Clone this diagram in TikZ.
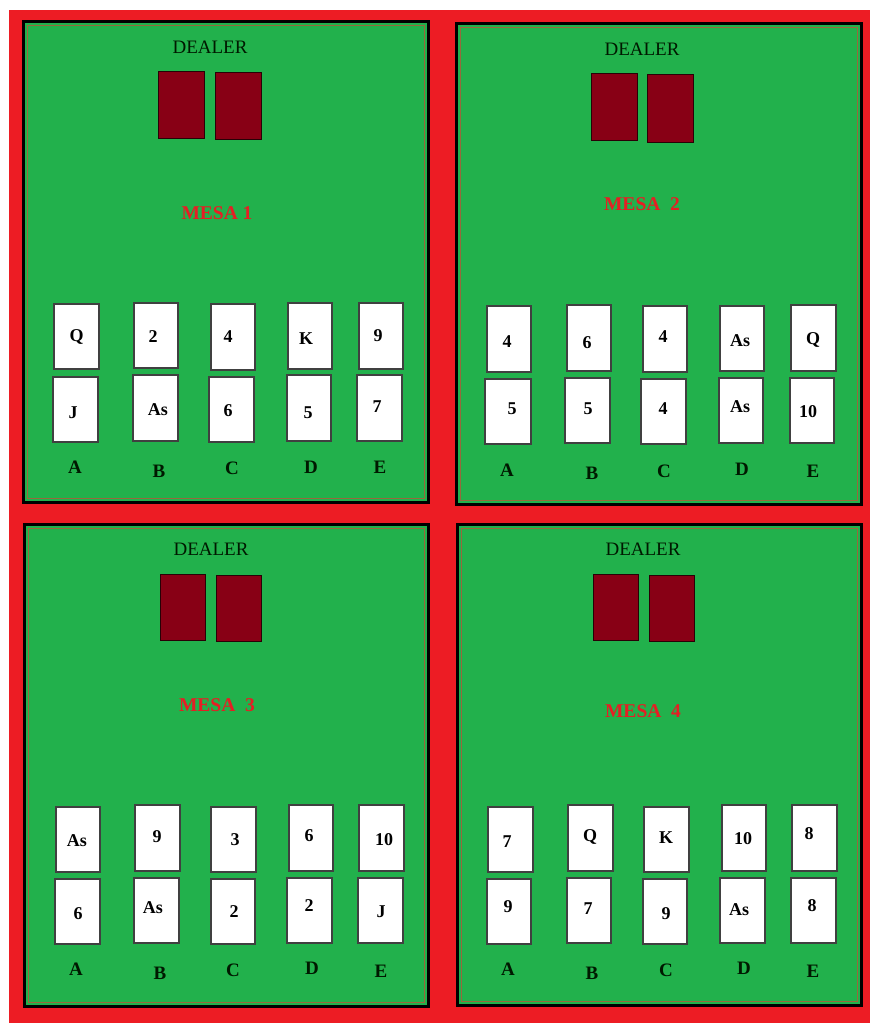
\documentclass[tikz,border=0pt]{standalone}
\usepackage{fontspec}
\setmainfont{Liberation Serif}
\definecolor{bgred}{RGB}{237,28,36}
\definecolor{tgreen}{RGB}{34,177,76}
\definecolor{dred}{RGB}{136,0,21}
\definecolor{brn}{RGB}{150,105,60}
\definecolor{mred}{RGB}{230,30,36}
\newcommand\crd[8]{%
  \pgfmathsetmacro\cw{#4-#2}\pgfmathsetmacro\ch{#5-#3}%
  \node[cardw,minimum width=\cw pt,minimum height=\ch pt] (#1) at ({(#2+#4)/2},{(#3+#5)/2}) {};
  \node[cardt] (#1t) at (#7,#8) {#6};}
\newcommand\dcrd[5]{%
  \pgfmathsetmacro\cw{#4-#2}\pgfmathsetmacro\ch{#5-#3}%
  \node[dcard,minimum width=\cw pt,minimum height=\ch pt] (#1) at ({(#2+#4)/2},{(#3+#5)/2}) {};}
\newcommand\tabl[5]{%
  \pgfmathsetmacro\cw{#4-#2-3}\pgfmathsetmacro\ch{#5-#3-3}%
  \node[tablebox,minimum width=\cw pt,minimum height=\ch pt] (#1) at ({(#2+#4)/2},{(#3+#5)/2}) {};
  \pgfmathsetmacro\cw{#4-#2-11}\pgfmathsetmacro\ch{#5-#3-11}%
  \node[innerline,minimum width=\cw pt,minimum height=\ch pt] (#1in) at ({(#2+#4)/2},{(#3+#5)/2}) {};}
\begin{document}
\begin{tikzpicture}[x=1pt,y=-1pt,
  tablebox/.style={draw=black,fill=tgreen,line width=3pt,inner sep=0pt,outer sep=0pt},
  innerline/.style={draw=brn,line width=1.2pt,inner sep=0pt},
  cardw/.style={draw=black!75,fill=white,line width=1.2pt,inner sep=0pt},
  dcard/.style={draw=black!70!dred,fill=dred,line width=1pt,inner sep=0pt},
  cardt/.style={inner sep=0pt,font=\fontsize{18}{19}\selectfont\bfseries,text=black},
  seat/.style={inner sep=0pt,font=\fontsize{19}{20}\selectfont\bfseries,text=black!90!green},
  dealer/.style={inner sep=0pt,font=\fontsize{19}{20}\selectfont,text=black!90!green},
  mesa/.style={inner sep=0pt,font=\fontsize{19.5}{20}\selectfont\bfseries,text=mred}]
\useasboundingbox (0,0) rectangle (870,1023);
\fill[bgred] (9,10) rectangle (870,1023);
% tables
\tabl{p1}{22}{20}{430}{504}
\tabl{p2}{455}{22}{863}{506}
\tabl{p3}{23}{523}{430}{1008}
\tabl{p4}{456}{523}{863}{1007}
% ---------- MESA 1
\node[dealer] (d1) at (210,47) {DEALER};
\dcrd{d1a}{158}{71}{204}{138}
\dcrd{d1b}{215}{72}{261}{139}
\node[mesa] (m1) at (217,213) {MESA 1};
\crd{a1}{54}{304}{99}{369}{Q}{76.5}{337}
\crd{b1}{134}{303}{178}{368}{2}{153}{337}
\crd{c1}{211}{304}{255}{370}{4}{228}{337}
\crd{e1}{288}{303}{332}{369}{K}{306}{339}
\crd{f1}{359}{303}{403}{369}{9}{378}{336}
\crd{a1b}{53}{377}{98}{442}{J}{73}{413}
\crd{b1b}{133}{375}{178}{441}{As}{158}{410}
\crd{c1b}{209}{377}{254}{442}{6}{228}{411}
\crd{e1b}{287}{375}{331}{441}{5}{308}{413}
\crd{f1b}{357}{375}{402}{441}{7}{377}{407}
\node[seat] (s1a) at (75,467) {A};
\node[seat] (s1b) at (159,471) {B};
\node[seat] (s1c) at (232,468) {C};
\node[seat] (s1d) at (311,467) {D};
\node[seat] (s1e) at (380,467) {E};
% ---------- MESA 2
\node[dealer] (d2) at (642,49) {DEALER};
\dcrd{d2a}{591}{73}{637}{140}
\dcrd{d2b}{647}{74}{693}{142}
\node[mesa] (m2) at (642,204) {MESA\ \ 2};
\crd{a2}{487}{306}{531}{372}{4}{507}{342}
\crd{b2}{567}{305}{611}{371}{6}{587}{343}
\crd{c2}{643}{306}{687}{372}{4}{663}{337}
\crd{e2}{720}{306}{764}{371}{As}{740}{341}
\crd{f2}{791}{305}{836}{371}{Q}{813}{340}
\crd{a2b}{485}{379}{531}{444}{5}{512}{409}
\crd{b2b}{565}{378}{610}{443}{5}{588}{409}
\crd{c2b}{641}{379}{686}{444}{4}{663}{409}
\crd{e2b}{719}{378}{763}{443}{As}{740}{407}
\crd{f2b}{790}{378}{834}{443}{10}{808}{412}
\node[seat] (s2a) at (507,470) {A};
\node[seat] (s2b) at (592,473) {B};
\node[seat] (s2c) at (664,471) {C};
\node[seat] (s2d) at (742,469) {D};
\node[seat] (s2e) at (813,471) {E};
% ---------- MESA 3
\node[dealer] (d3) at (211,549) {DEALER};
\dcrd{d3a}{160}{574}{205}{640}
\dcrd{d3b}{216}{575}{261}{641}
\node[mesa] (m3) at (217,705) {MESA\ \ 3};
\crd{a3}{56}{807}{100}{872}{As}{77}{841}
\crd{b3}{135}{805}{180}{871}{9}{157}{837}
\crd{c3}{211}{807}{256}{872}{3}{235}{840}
\crd{e3}{289}{805}{333}{871}{6}{309}{836}
\crd{f3}{359}{805}{404}{871}{10}{384}{840}
\crd{a3b}{55}{879}{100}{944}{6}{78}{914}
\crd{b3b}{134}{878}{179}{943}{As}{153}{908}
\crd{c3b}{211}{879}{255}{944}{2}{234}{912}
\crd{e3b}{287}{878}{332}{943}{2}{309}{906}
\crd{f3b}{358}{878}{403}{943}{J}{381}{912}
\node[seat] (s3a) at (76,969) {A};
\node[seat] (s3b) at (160,973) {B};
\node[seat] (s3c) at (233,970) {C};
\node[seat] (s3d) at (312,968) {D};
\node[seat] (s3e) at (381,971) {E};
% ---------- MESA 4
\node[dealer] (d4) at (643,549) {DEALER};
\dcrd{d4a}{593}{574}{638}{640}
\dcrd{d4b}{649}{575}{694}{641}
\node[mesa] (m4) at (643,711) {MESA\ \ 4};
\crd{a4}{488}{807}{533}{872}{7}{507}{842}
\crd{b4}{568}{805}{613}{871}{Q}{590}{837}
\crd{c4}{644}{807}{689}{872}{K}{666}{838}
\crd{e4}{722}{805}{766}{871}{10}{743}{839}
\crd{f4}{792}{805}{837}{871}{8}{809}{834}
\crd{a4b}{487}{879}{531}{944}{9}{508}{907}
\crd{b4b}{567}{878}{611}{943}{7}{588}{909}
\crd{c4b}{643}{879}{687}{944}{9}{666}{914}
\crd{e4b}{720}{878}{765}{943}{As}{739}{910}
\crd{f4b}{791}{878}{836}{943}{8}{812}{906}
\node[seat] (s4a) at (508,969) {A};
\node[seat] (s4b) at (592,973) {B};
\node[seat] (s4c) at (666,970) {C};
\node[seat] (s4d) at (744,968) {D};
\node[seat] (s4e) at (813,971) {E};
\end{tikzpicture}
\end{document}
